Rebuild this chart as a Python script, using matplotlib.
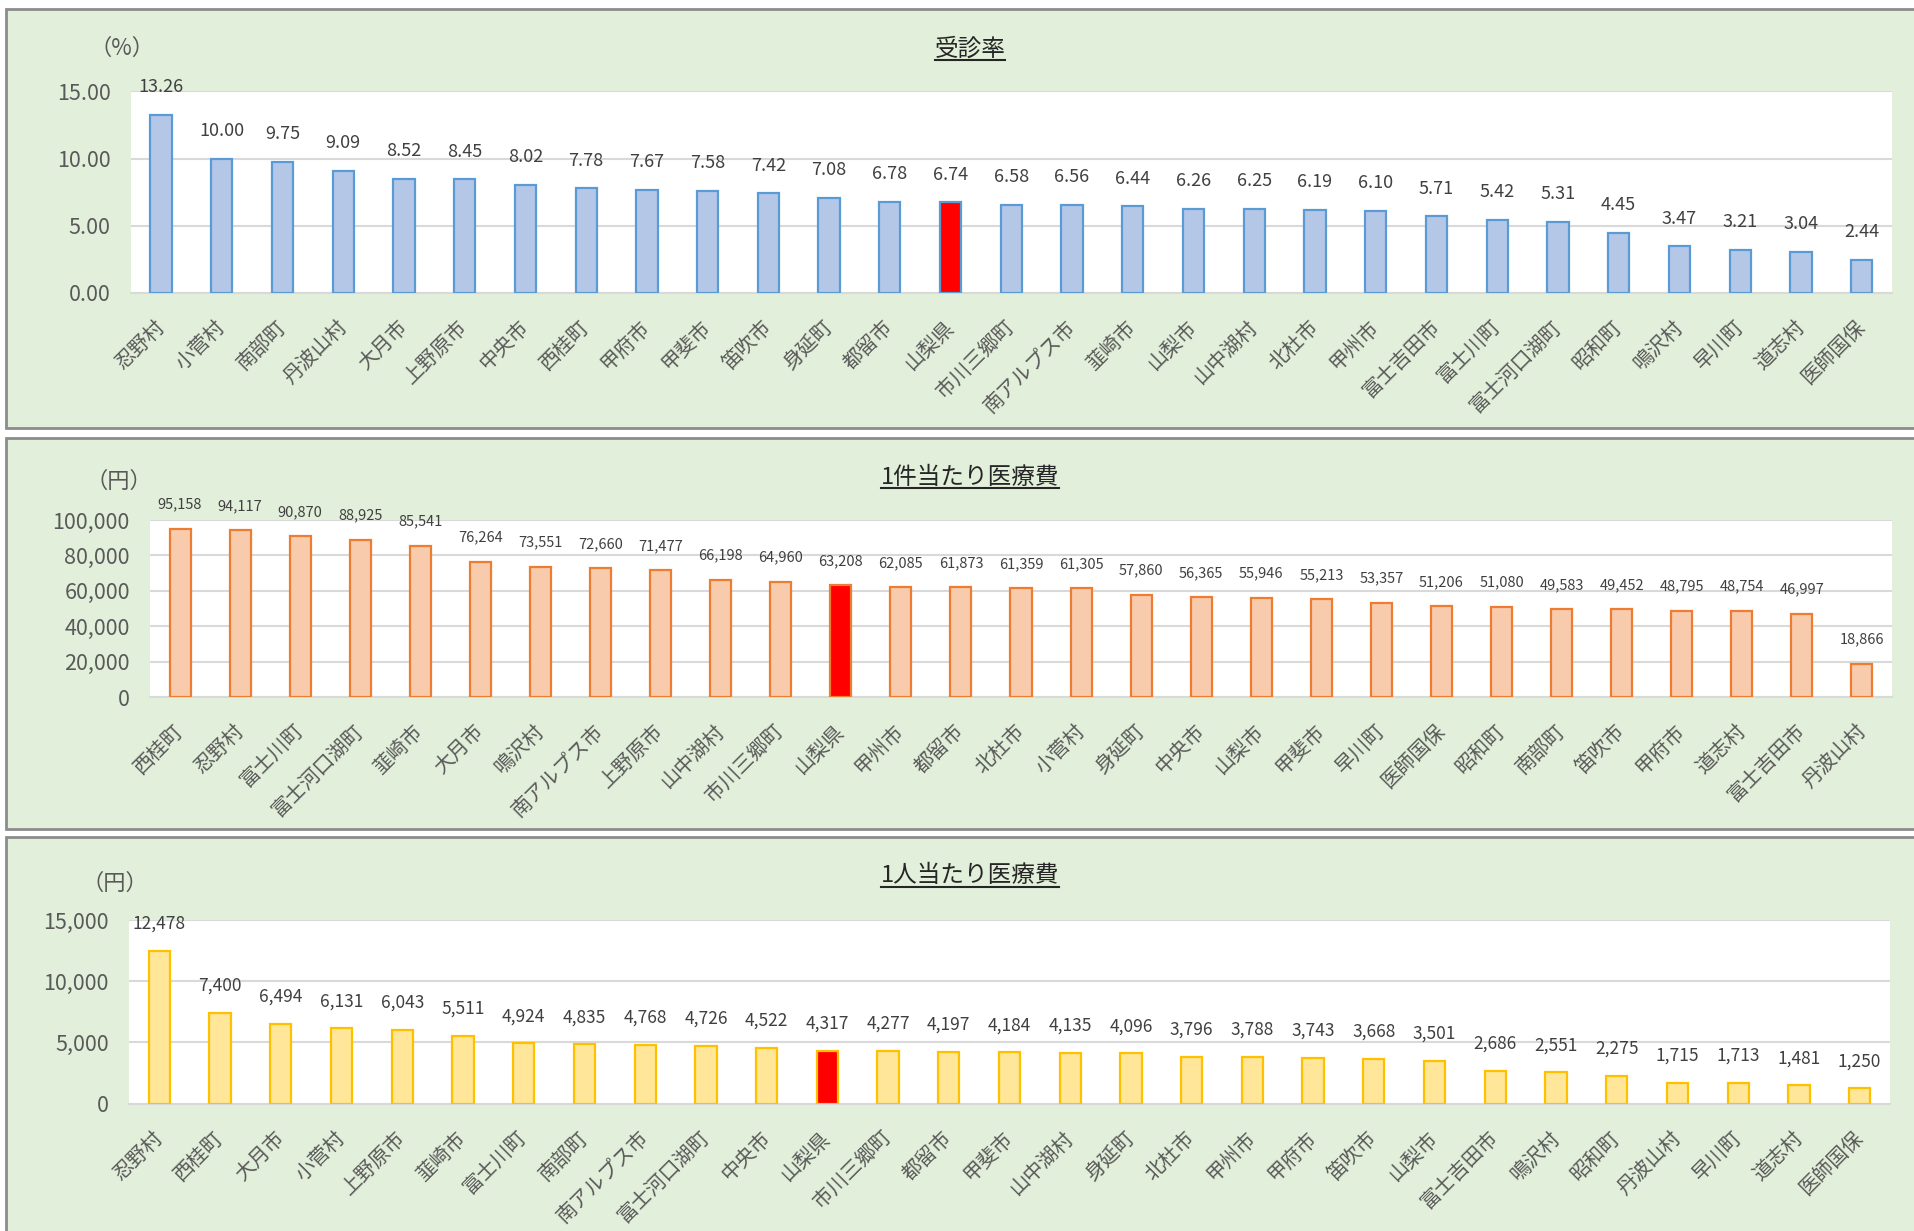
import matplotlib
matplotlib.use("Agg")
import matplotlib.pyplot as plt
from matplotlib.patches import Rectangle
from matplotlib.lines import Line2D
from matplotlib.ticker import FuncFormatter
from matplotlib.transforms import ScaledTranslation

plt.rcParams['font.family'] = ['Noto Sans CJK JP', 'DejaVu Sans']

# ---------------- data ----------------
cats1 = ["忍野村", "小菅村", "南部町", "丹波山村", "大月市", "上野原市", "中央市", "西桂町",
         "甲府市", "甲斐市", "笛吹市", "身延町", "都留市", "山梨県", "市川三郷町", "南アルプス市",
         "韮崎市", "山梨市", "山中湖村", "北杜市", "甲州市", "富士吉田市", "富士川町",
         "富士河口湖町", "昭和町", "鳴沢村", "早川町", "道志村", "医師国保"]
vals1 = [13.26, 10.00, 9.75, 9.09, 8.52, 8.45, 8.02, 7.78, 7.67, 7.58, 7.42, 7.08, 6.78, 6.74,
         6.58, 6.56, 6.44, 6.26, 6.25, 6.19, 6.10, 5.71, 5.42, 5.31, 4.45, 3.47, 3.21, 3.04, 2.44]

cats2 = ["西桂町", "忍野村", "富士川町", "富士河口湖町", "韮崎市", "大月市", "鳴沢村", "南アルプス市",
         "上野原市", "山中湖村", "市川三郷町", "山梨県", "甲州市", "都留市", "北杜市", "小菅村",
         "身延町", "中央市", "山梨市", "甲斐市", "早川町", "医師国保", "昭和町", "南部町",
         "笛吹市", "甲府市", "道志村", "富士吉田市", "丹波山村"]
vals2 = [95158, 94117, 90870, 88925, 85541, 76264, 73551, 72660, 71477, 66198, 64960, 63208,
         62085, 61873, 61359, 61305, 57860, 56365, 55946, 55213, 53357, 51206, 51080, 49583,
         49452, 48795, 48754, 46997, 18866]

cats3 = ["忍野村", "西桂町", "大月市", "小菅村", "上野原市", "韮崎市", "富士川町", "南部町",
         "南アルプス市", "富士河口湖町", "中央市", "山梨県", "市川三郷町", "都留市", "甲斐市",
         "山中湖村", "身延町", "北杜市", "甲州市", "甲府市", "笛吹市", "山梨市", "富士吉田市",
         "鳴沢村", "昭和町", "丹波山村", "早川町", "道志村", "医師国保"]
vals3 = [12478, 7400, 6494, 6131, 6043, 5511, 4924, 4835, 4768, 4726, 4522, 4317, 4277, 4197,
         4184, 4135, 4096, 3796, 3788, 3743, 3668, 3501, 2686, 2551, 2275, 1715, 1713, 1481, 1250]

titles = ["受診率", "1件当たり医療費", "1人当たり医療費"]
units = ["（%）", "（円）", "（円）"]
yticks1 = [0, 5, 10, 15]
yticks2 = [0, 20000, 40000, 60000, 80000, 100000]
yticks3 = [0, 5000, 10000, 15000]
highlight = "山梨県"

# ---------------- layout ----------------
W, H = 1914, 1231
fig = plt.figure(figsize=(W / 100, H / 100), dpi=100)
fig.patch.set_facecolor("white")

BG = "#E2EFDA"
BORDER = "#8C8C8C"
GRID = "#D9D9D9"
TXT = "#404040"

# panels: (top px, bottom px)
panels = [(9, 428), (438, 829), (837, 1240)]
for top, bot in panels:
    fig.patches.append(Rectangle((6 / W, 1 - bot / H), (W + 20) / W, (bot - top) / H,
                                 transform=fig.transFigure, facecolor=BG,
                                 edgecolor=BORDER, linewidth=2, zorder=-5))

# axes rects in px: left, right, top, bottom
axrects = [(130.6, 1892, 91.5, 293), (150, 1892, 520, 697), (129, 1890, 920, 1103.5)]
fills = ["#B4C7E7", "#F8CBAD", "#FFE699"]
edges = ["#5B9BD5", "#ED7D31", "#FFC000"]
datasets = [(cats1, vals1, yticks1), (cats2, vals2, yticks2), (cats3, vals3, yticks3)]
fmt_tick = [lambda v, p: f"{v:.2f}", lambda v, p: f"{int(v):,}", lambda v, p: f"{int(v):,}"]
fmt_lab = [lambda v: f"{v:.2f}", lambda v: f"{int(v):,}", lambda v: f"{int(v):,}"]
lab_size = [13, 10.5, 12.5]
lab_off = [20, 17.5, 19.5]
title_y = [49, 477, 876]
unit_pos = [(122, 48), (119, 481), (115, 883)]

shift = ScaledTranslation(-7 / 100, 0, fig.dpi_scale_trans)

title_texts = []
for i, ((l, r, t, b), (cats, vals, yt)) in enumerate(zip(axrects, datasets)):
    ax = fig.add_axes([l / W, 1 - b / H, (r - l) / W, (b - t) / H])
    ax.set_zorder(5)
    ax.set_facecolor("white")
    x = list(range(len(cats)))
    fc = ["#FF0000" if c == highlight else fills[i] for c in cats]
    ax.bar(x, vals, width=0.35, color=fc, edgecolor=edges[i], linewidth=1.6, zorder=3)
    ax.set_xlim(-0.5, len(cats) - 0.5)
    ax.set_ylim(yt[0], yt[-1])
    ax.set_yticks(yt)
    ax.yaxis.set_major_formatter(FuncFormatter(fmt_tick[i]))
    ax.grid(axis="y", color=GRID, linewidth=1.5, zorder=0)
    ax.set_axisbelow(True)
    for s in ["left", "right", "top"]:
        ax.spines[s].set_visible(False)
    ax.spines["bottom"].set_color(GRID)
    ax.spines["bottom"].set_linewidth(1.5)
    ax.tick_params(axis="y", length=0, pad=14.5, labelsize=15.5, labelcolor="#595959")
    ax.tick_params(axis="x", length=0, pad=17)
    ax.set_xticks(x)
    ax.set_xticklabels(cats, rotation=45, ha="right", va="top", rotation_mode="anchor",
                       fontsize=14.5, color="#595959")
    for lab in ax.get_xticklabels():
        lab.set_transform(lab.get_transform() + shift)
    for xi, v in zip(x, vals):
        ax.annotate(fmt_lab[i](v), (xi, v), xytext=(0, lab_off[i]), textcoords="offset points",
                    ha="center", va="center", fontsize=lab_size[i], color=TXT, zorder=4,
                    annotation_clip=False)
    ux, uy = unit_pos[i]
    fig.text(ux / W, 1 - uy / H, units[i], ha="center", va="center", fontsize=16, color="#595959")
    tt = fig.text(970 / W, 1 - title_y[i] / H, titles[i], ha="center", va="center",
                  fontsize=17, color="#262626")
    title_texts.append(tt)

# underline titles
fig.canvas.draw()
renderer = fig.canvas.get_renderer()
for tt in title_texts:
    bb = tt.get_window_extent(renderer=renderer).transformed(fig.transFigure.inverted())
    yline = bb.y0 + 1.0 / H
    fig.lines.append(Line2D([bb.x0, bb.x1], [yline, yline], transform=fig.transFigure,
                            color="#262626", linewidth=1.5))

fig.savefig("out.png", dpi=100, facecolor="white")
